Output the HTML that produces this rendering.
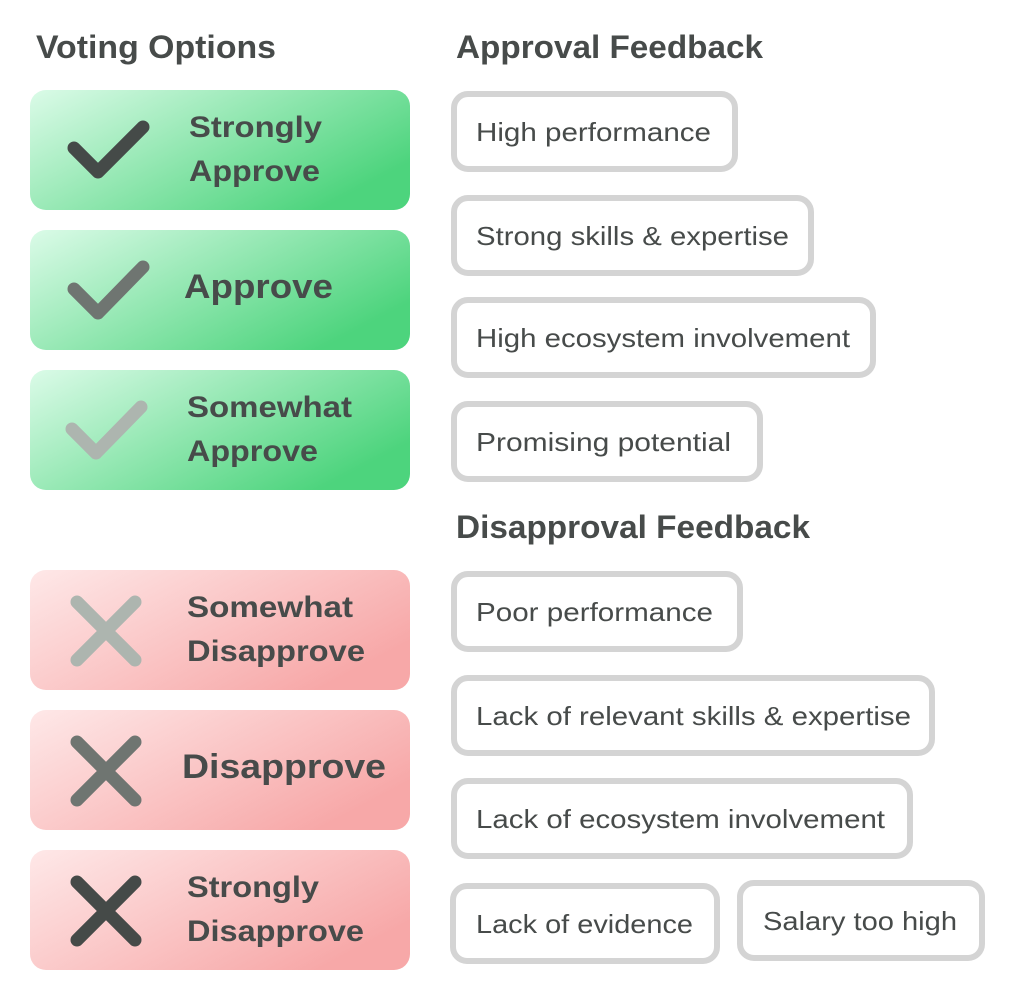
<!DOCTYPE html>
<html><head><meta charset="utf-8"><style>html,body{margin:0;padding:0;background:#fff}svg{display:block}</style></head>
<body>
<svg width="1020" height="1000" viewBox="0 0 1020 1000" xmlns="http://www.w3.org/2000/svg" font-family="Liberation Sans, sans-serif">
<defs>
<linearGradient id="g" x1="0" y1="0" x2="1" y2="0.6"><stop offset="0" stop-color="#dbfbe8"/><stop offset="1" stop-color="#4dd47d"/></linearGradient>
<linearGradient id="r" x1="0" y1="0" x2="1" y2="0.6"><stop offset="0" stop-color="#fee8e8"/><stop offset="1" stop-color="#f7a8a8"/></linearGradient>
</defs>
<g fill="#474b4a" font-weight="bold" font-size="32">
<text x="36" y="58" textLength="240" lengthAdjust="spacingAndGlyphs">Voting Options</text>
<text x="456" y="58" textLength="307" lengthAdjust="spacingAndGlyphs">Approval Feedback</text>
<text x="456" y="538" textLength="354" lengthAdjust="spacingAndGlyphs">Disapproval Feedback</text>
</g>
<g>
<rect x="30" y="90" width="380" height="120" rx="16" fill="url(#g)"/>
<rect x="30" y="230" width="380" height="120" rx="16" fill="url(#g)"/>
<rect x="30" y="370" width="380" height="120" rx="16" fill="url(#g)"/>
<rect x="30" y="570" width="380" height="120" rx="16" fill="url(#r)"/>
<rect x="30" y="710" width="380" height="120" rx="16" fill="url(#r)"/>
<rect x="30" y="850" width="380" height="120" rx="16" fill="url(#r)"/>
</g>
<g fill="none" stroke-width="13" stroke-linecap="round" stroke-linejoin="round">
<polyline points="74,148 98,172 143,127" stroke="#454a48"/>
<polyline points="74,289 98,313 143,267" stroke="#6f7571"/>
<polyline points="72,429 96,453 141,407" stroke="#adb5af"/>
<path d="M77,602 L135,660 M135,602 L77,660" stroke="#adb5af"/>
<path d="M77,742 L135,800 M135,742 L77,800" stroke="#6f7571"/>
<path d="M77,882 L135,940 M135,882 L77,940" stroke="#454a48"/>
</g>
<g fill="#474b4a" font-weight="bold" font-size="30">
<text x="189" y="137" textLength="133" lengthAdjust="spacingAndGlyphs">Strongly</text>
<text x="189" y="181" textLength="131" lengthAdjust="spacingAndGlyphs">Approve</text>
<text x="184" y="298" font-size="34" textLength="149" lengthAdjust="spacingAndGlyphs">Approve</text>
<text x="187" y="417" textLength="165" lengthAdjust="spacingAndGlyphs">Somewhat</text>
<text x="187" y="461" textLength="131" lengthAdjust="spacingAndGlyphs">Approve</text>
<text x="187" y="617" textLength="166" lengthAdjust="spacingAndGlyphs">Somewhat</text>
<text x="187" y="661" textLength="178" lengthAdjust="spacingAndGlyphs">Disapprove</text>
<text x="182" y="778" font-size="34" textLength="204" lengthAdjust="spacingAndGlyphs">Disapprove</text>
<text x="187" y="897" textLength="132" lengthAdjust="spacingAndGlyphs">Strongly</text>
<text x="187" y="941" textLength="177" lengthAdjust="spacingAndGlyphs">Disapprove</text>
</g>
<g fill="#fff" stroke="#d4d4d4" stroke-width="6">
<rect x="454" y="94" width="281" height="75" rx="14"/>
<rect x="454" y="198" width="357" height="75" rx="14"/>
<rect x="454" y="300" width="419" height="75" rx="14"/>
<rect x="454" y="404" width="306" height="75" rx="14"/>
<rect x="454" y="574" width="286" height="75" rx="14"/>
<rect x="454" y="678" width="478" height="75" rx="14"/>
<rect x="454" y="781" width="456" height="75" rx="14"/>
<rect x="453" y="886" width="264" height="75" rx="14"/>
<rect x="740" y="883" width="242" height="75" rx="14"/>
</g>
<g fill="#474b4a" font-size="26">
<text x="476" y="141" textLength="235" lengthAdjust="spacingAndGlyphs">High performance</text>
<text x="476" y="245" textLength="313" lengthAdjust="spacingAndGlyphs">Strong skills &amp; expertise</text>
<text x="476" y="347" textLength="374" lengthAdjust="spacingAndGlyphs">High ecosystem involvement</text>
<text x="476" y="451" textLength="255" lengthAdjust="spacingAndGlyphs">Promising potential</text>
<text x="476" y="621" textLength="237" lengthAdjust="spacingAndGlyphs">Poor performance</text>
<text x="476" y="725" textLength="435" lengthAdjust="spacingAndGlyphs">Lack of relevant skills &amp; expertise</text>
<text x="476" y="828" textLength="409" lengthAdjust="spacingAndGlyphs">Lack of ecosystem involvement</text>
<text x="476" y="933" textLength="217" lengthAdjust="spacingAndGlyphs">Lack of evidence</text>
<text x="763" y="930" textLength="194" lengthAdjust="spacingAndGlyphs">Salary too high</text>
</g>
</svg>
</body></html>
